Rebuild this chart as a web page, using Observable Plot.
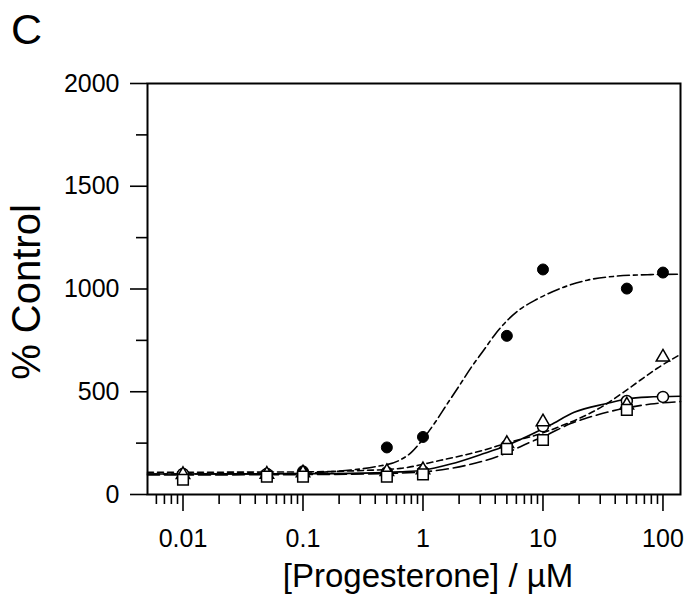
<!DOCTYPE html>
<html>
<head>
<meta charset="utf-8">
<script src="https://cdn.jsdelivr.net/npm/d3@7"></script>
<script src="https://cdn.jsdelivr.net/npm/@observablehq/plot@0.6"></script>
<style>
  body { margin: 0; background: #fff; }
  #chart { width: 688px; height: 599px; }
</style>
</head>
<body>
<div id="chart"></div>
<script>
// ---- data ----
const conc = [0.01, 0.05, 0.1, 0.5, 1, 5, 10, 50, 100];
const filledCircle = [100, 100, 113, 229, 280, 772, 1095, 1002, 1080];
const openCircle   = [100, 100, 100, 107, 112, 238, 332, 455, 475];
const openTriangle = [97, 98, 105, 111, 120, 248, 353, 435, 668];
const openSquare   = [72, 87, 87, 87, 98, 222, 265, 412];

// fitted curves
const fitFilledX = [0.00506, 0.03, 0.1, 0.16, 0.25, 0.4, 0.63, 0.8, 1, 1.26, 1.58, 2, 2.5, 3.16, 4, 5, 6.3, 8.9, 14, 23.4, 40, 79, 140];
const fitFilledY = [100, 100, 103, 110, 119, 135, 165, 205, 270, 350, 438, 528, 615, 697, 780, 845, 897, 950, 1003, 1043, 1062, 1070, 1072];

const fitTriangleX = [0.00506, 0.1, 0.32, 0.65, 1.32, 3.16, 5, 10, 14.1, 20, 31.6, 46.8, 64.6, 89, 140];
const fitTriangleY = [108, 110, 117, 127, 163, 215, 250, 300, 333, 370, 430, 497, 556, 613, 682];

const fitCircleX = [0.00506, 0.1, 0.32, 0.65, 1, 1.7, 3.16, 4.8, 8.3, 11.5, 18.2, 34, 50, 74, 140];
const fitCircleY = [100, 101, 104, 110, 118, 148, 198, 235, 297, 338, 400, 443, 465, 474, 478];

const fitSquareX = [0.00506, 0.1, 0.32, 1, 1.7, 2.34, 4.47, 7.4, 10.7, 17, 25, 41.7, 79, 140];
const fitSquareY = [95, 97, 100, 110, 127, 143, 191, 248, 289, 345, 378, 412, 440, 452];

const xMajorTicks = [0.01, 0.1, 1, 10, 100];
const xMajorLabels = ["0.01", "0.1", "1", "10", "100"];
const xMinorTicks = [0.006, 0.007, 0.008, 0.009,
  0.02, 0.03, 0.04, 0.05, 0.06, 0.07, 0.08, 0.09,
  0.2, 0.3, 0.4, 0.5, 0.6, 0.7, 0.8, 0.9,
  2, 3, 4, 5, 6, 7, 8, 9,
  20, 30, 40, 50, 60, 70, 80, 90];
const yMajorTicks = [0, 500, 1000, 1500, 2000];
const yMinorTicks = [250, 750, 1250, 1750];

const xTitle = "[Progesterone] / µM";
const yTitle = "% Control";
const panelLabel = "C";

// ---- build ----
const FONT = "'Liberation Sans', Arial, Helvetica, sans-serif";
const pts = (ys) => ys.map((v, i) => ({x: conc[i], y: v}));
const fit = (xs, ys) => xs.map((x, i) => ({x, y: ys[i]}));

const plot = Plot.plot({
  width: 688,
  height: 599,
  marginLeft: 147,
  marginRight: 8,
  marginTop: 83,
  marginBottom: 105,
  style: {fontFamily: FONT, background: "white", color: "black", overflow: "visible"},
  x: {type: "log", domain: [0.00506, 140]},
  y: {domain: [0, 2000]},
  marks: [
    Plot.line(fit(fitFilledX, fitFilledY), {x: "x", y: "y", curve: "monotone-x", stroke: "black", strokeWidth: 1.6, strokeDasharray: "12,4,4,4"}),
    Plot.line(fit(fitTriangleX, fitTriangleY), {x: "x", y: "y", curve: "monotone-x", stroke: "black", strokeWidth: 1.6, strokeDasharray: "6,4"}),
    Plot.line(fit(fitSquareX, fitSquareY), {x: "x", y: "y", curve: "monotone-x", stroke: "black", strokeWidth: 1.6, strokeDasharray: "12,5"}),
    Plot.line(fit(fitCircleX, fitCircleY), {x: "x", y: "y", curve: "monotone-x", stroke: "black", strokeWidth: 1.6}),
    Plot.dot(pts(filledCircle), {x: "x", y: "y", r: 5.5, fill: "black", stroke: "black", strokeWidth: 1}),
    Plot.dot(pts(openCircle), {x: "x", y: "y", r: 5.5, fill: "white", stroke: "black", strokeWidth: 1.5}),
    Plot.dot(pts(openTriangle), {x: "x", y: "y", symbol: "triangle", r: 5, fill: "white", stroke: "black", strokeWidth: 1.5}),
    Plot.dot(pts(openSquare), {x: "x", y: "y", symbol: "square", r: 6, fill: "white", stroke: "black", strokeWidth: 1.5}),
    Plot.frame({stroke: "black", strokeWidth: 2}),
    Plot.axisX({ticks: xMinorTicks, tickSize: 10, tickFormat: () => "", strokeWidth: 1.6, label: null}),
    Plot.axisX({ticks: xMajorTicks, tickSize: 17, tickPadding: 18, fontSize: 25, strokeWidth: 1.6,
      tickFormat: (d) => xMajorLabels[xMajorTicks.indexOf(d)], label: null}),
    Plot.axisY({ticks: yMinorTicks, tickSize: 11, tickFormat: () => "", strokeWidth: 1.6, label: null}),
    Plot.axisY({ticks: yMajorTicks, tickSize: 17, tickPadding: 11, fontSize: 25, strokeWidth: 1.6,
      tickFormat: (d) => String(d), label: null}),
    Plot.text([xTitle], {frameAnchor: "bottom", dx: 14, dy: 82, fontSize: 33, lineAnchor: "middle", textAnchor: "middle", text: (d) => d, fill: "black"}),
    Plot.text([yTitle], {frameAnchor: "left", dx: -120, dy: 3, rotate: -90, fontSize: 40, lineAnchor: "middle", textAnchor: "middle", text: (d) => d, fill: "black"})
  ]
});

d3.select(plot).append("text")
  .attr("x", 11)
  .attr("y", 43.5)
  .attr("font-size", 43)
  .attr("font-family", FONT)
  .attr("text-anchor", "start")
  .attr("fill", "black")
  .text(panelLabel);

document.getElementById("chart").appendChild(plot);
</script>
</body>
</html>
